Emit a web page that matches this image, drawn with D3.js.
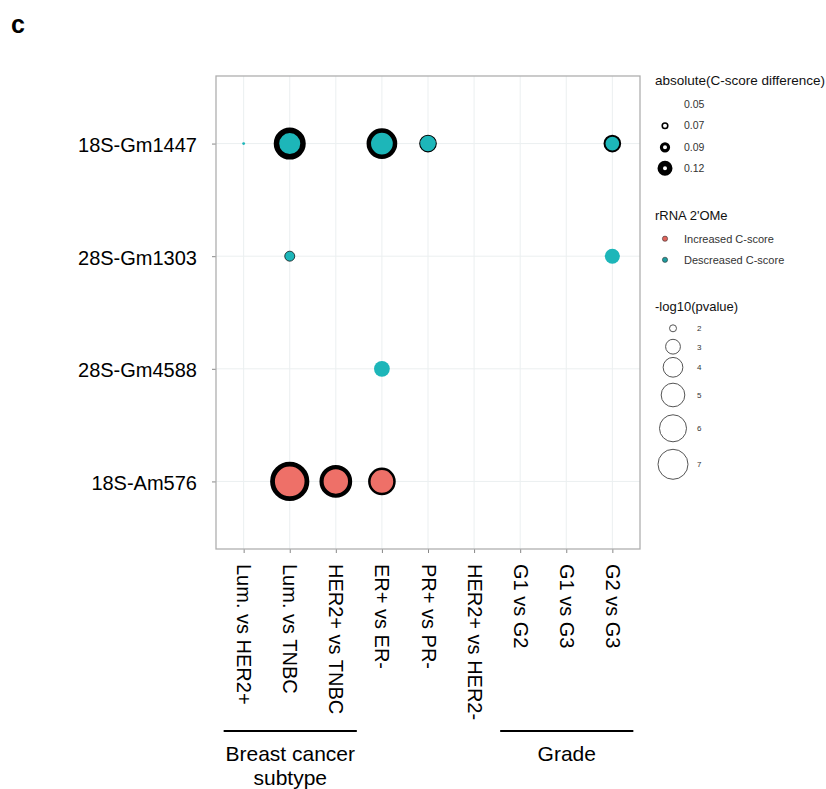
<!DOCTYPE html>
<html>
<head>
<meta charset="utf-8">
<script src="https://cdn.jsdelivr.net/npm/d3@7"></script>
<style>
  html, body { margin: 0; padding: 0; background: #fff; }
  svg { display: block; font-family: "Liberation Sans", Arial, Helvetica, sans-serif; }
</style>
</head>
<body>
<svg id="chart" width="826" height="789"></svg>
<script>
// ---------- data ----------
const comparisons = ["Lum. vs HER2+", "Lum. vs TNBC", "HER2+ vs TNBC", "ER+ vs ER-", "PR+ vs PR-",
                     "HER2+ vs HER2-", "G1 vs G2", "G1 vs G3", "G2 vs G3"];
const sites = ["18S-Gm1447", "28S-Gm1303", "28S-Gm4588", "18S-Am576"];

// one entry per drawn point
const pointSite = ["18S-Gm1447", "18S-Gm1447", "18S-Gm1447", "18S-Gm1447", "18S-Gm1447",
                   "28S-Gm1303", "28S-Gm1303",
                   "28S-Gm4588",
                   "18S-Am576", "18S-Am576", "18S-Am576"];
const pointComparison = ["Lum. vs HER2+", "Lum. vs TNBC", "ER+ vs ER-", "PR+ vs PR-", "G2 vs G3",
                         "Lum. vs TNBC", "G2 vs G3",
                         "ER+ vs ER-",
                         "Lum. vs TNBC", "HER2+ vs TNBC", "ER+ vs ER-"];
const pointNegLogP = [1.76, 4.31, 4.49, 3.14, 2.82,
                      2.22, 3.04,
                      3.18,
                      6.87, 5.21, 4.72];
const pointAbsDiff = [0.045, 0.122, 0.107, 0.063, 0.075,
                      0.059, 0.050,
                      0.048,
                      0.111, 0.103, 0.082];
const pointDirection = ["Decreased", "Decreased", "Decreased", "Decreased", "Decreased",
                        "Decreased", "Decreased",
                        "Decreased",
                        "Increased", "Increased", "Increased"];

const diffLegendBreaks = [0.05, 0.07, 0.09, 0.12];
const directionLevels = ["Increased", "Decreased"];
const directionLabels = ["Increased C-score", "Descreased C-score"];
const pLegendBreaks = [2, 3, 4, 5, 6, 7];

const groupNames = [["Breast cancer", "subtype"], ["Grade"]];
const groupFirst = ["Lum. vs HER2+", "G1 vs G2"];
const groupLast = ["HER2+ vs TNBC", "G2 vs G3"];

// ---------- layout ----------
const svg = d3.select("#chart");
const P = { left: 216, right: 640, top: 76, bottom: 549 };

const x = d3.scalePoint().domain(comparisons).range([P.left, P.right]).padding(0.6);
const y = d3.scalePoint().domain(sites).range([P.top, P.bottom]).padding(0.6);
const area = d3.scaleLinear().domain([2, 7]).range([12.25, 225]);
const rad = v => Math.sqrt(Math.max(0.5, area(v)));
const sw = d3.scaleLinear().domain([0.05, 0.12]).range([0, 5.5]).clamp(true);
const color = d3.scaleOrdinal().domain(directionLevels).range(["#EE7068", "#1DB6B9"]);
const legendColor = d3.scaleOrdinal().domain(directionLevels).range(["#E0645C", "#1C9C9E"]);

// panel
svg.append("rect").attr("x", P.left).attr("y", P.top)
  .attr("width", P.right - P.left).attr("height", P.bottom - P.top).attr("fill", "#fff");

const grid = svg.append("g");
grid.selectAll("line.gx").data(comparisons).join("line")
  .attr("x1", d => x(d)).attr("x2", d => x(d)).attr("y1", P.top).attr("y2", P.bottom)
  .attr("stroke", "#EBEFF0").attr("stroke-width", 1);
grid.selectAll("line.gy").data(sites).join("line")
  .attr("y1", d => y(d)).attr("y2", d => y(d)).attr("x1", P.left).attr("x2", P.right)
  .attr("stroke", "#EBEFF0").attr("stroke-width", 1);

// axes
const xAxis = svg.append("g").attr("transform", `translate(0,${P.bottom})`)
  .call(d3.axisBottom(x).tickSize(4).tickSizeOuter(0).tickFormat(""));
xAxis.select(".domain").remove();
xAxis.selectAll(".tick line").attr("stroke", "#888");
xAxis.selectAll(".tick").append("text")
  .attr("transform", "translate(0,15) rotate(90)")
  .attr("text-anchor", "start").attr("dy", "0.35em")
  .attr("fill", "#000").attr("font-size", 20)
  .text(d => d);

const yAxis = svg.append("g").attr("transform", `translate(${P.left},0)`)
  .call(d3.axisLeft(y).tickSize(4).tickSizeOuter(0).tickFormat(""));
yAxis.select(".domain").remove();
yAxis.selectAll(".tick line").attr("stroke", "#888");
yAxis.selectAll(".tick").append("text")
  .attr("x", -19).attr("y", 8)
  .attr("text-anchor", "end").attr("fill", "#000").attr("font-size", 20)
  .text(d => d);

// points
const pts = pointSite.map((s, i) => ({
  site: s, comp: pointComparison[i], p: pointNegLogP[i], diff: pointAbsDiff[i], dir: pointDirection[i]
}));
svg.append("g").selectAll("circle").data(pts).join("circle")
  .attr("cx", d => x(d.comp)).attr("cy", d => y(d.site))
  .attr("r", d => rad(d.p) + sw(d.diff) / 2)
  .attr("fill", d => color(d.dir))
  .attr("stroke", d => sw(d.diff) > 0.3 ? "#000" : "none")
  .attr("stroke-width", d => sw(d.diff));
// hairline outline for thin-stroke points
svg.append("g").selectAll("circle").data(pts.filter(d => sw(d.diff) > 0 && sw(d.diff) <= 0.3)).join("circle")
  .attr("cx", d => x(d.comp)).attr("cy", d => y(d.site)).attr("r", d => rad(d.p))
  .attr("fill", "none").attr("stroke", "#333").attr("stroke-width", 0.7);

// panel border
svg.append("rect").attr("x", P.left).attr("y", P.top)
  .attr("width", P.right - P.left).attr("height", P.bottom - P.top)
  .attr("fill", "none").attr("stroke", "#AFAFAF").attr("stroke-width", 1.3);

// group brackets
const gb = svg.append("g");
groupNames.forEach((lines, i) => {
  const x0 = x(groupFirst[i]) - 20, x1 = x(groupLast[i]) + 21;
  gb.append("line").attr("x1", x0).attr("x2", x1).attr("y1", 731).attr("y2", 731)
    .attr("stroke", "#000").attr("stroke-width", 2);
  const cx = (x0 + x1) / 2;
  lines.forEach((s, j) => {
    gb.append("text").attr("x", cx).attr("y", 761 + j * 24)
      .attr("text-anchor", "middle").attr("font-size", 21).attr("fill", "#000").text(s);
  });
});

// panel letter
svg.append("text").attr("x", 11).attr("y", 33).attr("font-size", 25).attr("font-weight", "bold").text("c");

// ---------- legends ----------
const L = svg.append("g");
// stroke legend
L.append("text").attr("x", 655).attr("y", 85).attr("font-size", 13.5).attr("fill", "#111")
  .text("absolute(C-score difference)");
const diffY = [104.5, 125.8, 147.3, 168.3];
diffLegendBreaks.forEach((b, i) => {
  const w = sw(b);
  if (w > 0) L.append("circle").attr("cx", 665).attr("cy", diffY[i]).attr("r", 2 + w / 2)
    .attr("fill", "#fff").attr("stroke", "#000").attr("stroke-width", w);
  L.append("text").attr("x", 684).attr("y", diffY[i]).attr("dy", "0.35em")
    .attr("font-size", 10.5).attr("fill", "#333").text(d3.format(".2f")(b));
});
// colour legend
L.append("text").attr("x", 655).attr("y", 219.5).attr("font-size", 13).attr("fill", "#111").text("rRNA 2'OMe");
const dirY = [238.7, 259.8];
directionLevels.forEach((lv, i) => {
  L.append("circle").attr("cx", 665).attr("cy", dirY[i]).attr("r", 2.6)
    .attr("fill", legendColor(lv)).attr("stroke", "#333").attr("stroke-width", 0.6);
  L.append("text").attr("x", 684).attr("y", dirY[i]).attr("dy", "0.35em")
    .attr("font-size", 11).attr("fill", "#333").text(directionLabels[i]);
});
// size legend
L.append("text").attr("x", 655).attr("y", 311).attr("font-size", 13).attr("fill", "#111").text("-log10(pvalue)");
const pY = [328.3, 346.7, 367.3, 395, 428.3, 464.3];
pLegendBreaks.forEach((b, i) => {
  L.append("circle").attr("cx", 673).attr("cy", pY[i]).attr("r", rad(b))
    .attr("fill", "none").attr("stroke", "#555").attr("stroke-width", 1);
  L.append("text").attr("x", 697).attr("y", pY[i]).attr("dy", "0.35em")
    .attr("font-size", 8).attr("fill", "#333").text(b);
});
</script>
</body>
</html>
